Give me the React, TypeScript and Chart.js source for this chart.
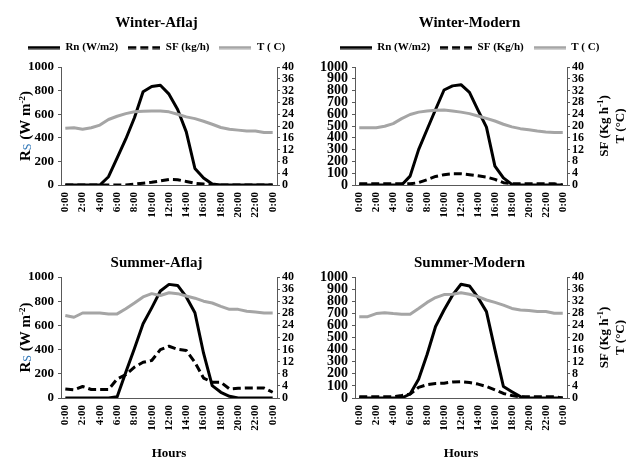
import React, { useEffect, useRef } from 'react';
import { Chart, registerables } from 'chart.js';

Chart.register(...registerables);

const FONT = "'Times New Roman', 'Liberation Serif', serif";
Chart.defaults.font.family = FONT;
Chart.defaults.color = '#000';

// ---------- data ----------
const hours = ['0:00', '1:00', '2:00', '3:00', '4:00', '5:00', '6:00', '7:00', '8:00', '9:00', '10:00', '11:00', '12:00',
  '13:00', '14:00', '15:00', '16:00', '17:00', '18:00', '19:00', '20:00', '21:00', '22:00', '23:00', '0:00'];

const winterAflajRn = [0, 0, 0, 0, 0, 70, 230, 390, 570, 790, 835, 845, 770, 640, 450, 140, 60, 8, 0, 0, 0, 0, 0, 0, 0];
const winterAflajSf = [0, 0, 0, 0, 0, 0, 0, 0, 0.3, 0.6, 0.9, 1.4, 1.9, 1.8, 1.2, 0.6, 0.3, 0, 0, 0, 0, 0, 0, 0, 0];
const winterAflajT = [19.2, 19.4, 18.9, 19.4, 20.3, 22.2, 23.3, 24.2, 24.8, 25.0, 25.1, 25.1, 24.8, 24.0, 23.1, 22.5, 21.6,
  20.6, 19.5, 18.9, 18.6, 18.3, 18.3, 17.8, 17.8];

const winterModernRn = [0, 0, 0, 0, 0, 0, 75, 300, 470, 640, 805, 840, 850, 785, 635, 490, 160, 60, 5, 0, 0, 0, 0, 0, 0];
const winterModernSf = [0.4, 0.4, 0.4, 0.4, 0.4, 0.4, 0.4, 0.8, 1.8, 2.9, 3.5, 3.8, 3.8, 3.5, 3.1, 2.7, 1.9, 0.8, 0.4, 0.4,
  0.4, 0.4, 0.4, 0.4, 0];
const winterModernT = [19.4, 19.4, 19.4, 19.9, 20.8, 22.5, 23.9, 24.7, 25.1, 25.3, 25.4, 25.1, 24.7, 24.2, 23.4, 22.6, 21.7,
  20.6, 19.7, 19.1, 18.7, 18.3, 18.0, 17.8, 17.8];

const summerAflajRn = [0, 0, 0, 0, 0, 0, 10, 213, 410, 613, 745, 884, 939, 930, 835, 705, 370, 102, 47, 14, 0, 0, 0, 0, 0];
const summerAflajSf = [3.0, 2.7, 3.8, 2.8, 2.8, 2.8, 6.3, 7.7, 10.2, 11.8, 12.4, 16.0, 17.1, 16.1, 15.7, 11.8, 6.6, 5.2, 5.2,
  3.0, 3.2, 3.3, 3.3, 3.3, 1.9];
const summerAflajT = [27.3, 26.7, 28.1, 28.1, 28.1, 27.8, 27.8, 29.5, 31.4, 33.4, 34.5, 33.9, 34.8, 34.5, 33.7, 33.0, 32.0,
  31.4, 30.3, 29.3, 29.3, 28.7, 28.4, 28.1, 28.1];

const summerModernRn = [0, 0, 0, 0, 0, 0, 33, 155, 360, 591, 727, 850, 940, 926, 831, 714, 400, 95, 52, 11, 0, 0, 0, 0, 0];
const summerModernSf = [0.4, 0.4, 0.4, 0.4, 0.4, 0.8, 1.3, 3.5, 4.4, 4.8, 4.9, 5.3, 5.4, 5.1, 4.6, 3.8, 2.7, 1.5, 0.8, 0.4,
  0.4, 0.4, 0.4, 0.4, 0];
const summerModernT = [26.9, 26.9, 27.9, 28.2, 27.9, 27.7, 27.7, 29.6, 31.6, 33.2, 34.2, 34.3, 34.8, 34.3, 33.5, 32.4, 31.6,
  30.7, 29.6, 29.1, 28.9, 28.6, 28.6, 28.0, 28.0];

const rnLabel = 'Rn (W/m2)';
const tLabel = 'T ( C)';
const leftMax = 1000;
const rightMax = 40;
const rightStep = 4;

// ---------- panels ----------
const panels: any[] = [
  {
    title: 'Winter-Aflaj', rn: winterAflajRn, sf: winterAflajSf, t: winterAflajT, sfLabel: 'SF (kg/h)',
    legend: true, leftStep: 200, leftTitle: true, rightTitle: false, hoursTitle: false,
    x: 0, y: 0, w: 313, h: 220, leftW: 61, rightW: 36, xH: 35, titlePad: { top: 14, bottom: 0 }, leftFont: 13,
  },
  {
    title: 'Winter-Modern', rn: winterModernRn, sf: winterModernSf, t: winterModernT, sfLabel: 'SF (Kg/h)',
    legend: true, leftStep: 100, leftTitle: false, rightTitle: true, hoursTitle: false,
    x: 313, y: 0, w: 313, h: 220, leftW: 42, rightW: 59, xH: 35, titlePad: { top: 14, bottom: 0 }, leftFont: 14,
  },
  {
    title: 'Summer-Aflaj', rn: summerAflajRn, sf: summerAflajSf, t: summerAflajT, sfLabel: 'SF (kg/h)',
    legend: false, leftStep: 200, leftTitle: true, rightTitle: false, hoursTitle: true,
    x: 0, y: 220, w: 313, h: 242, leftW: 61, rightW: 36, xH: 64, titlePad: { top: 34, bottom: 5 }, leftFont: 13,
  },
  {
    title: 'Summer-Modern', rn: summerModernRn, sf: summerModernSf, t: summerModernT, sfLabel: 'SF (Kg/h)',
    legend: false, leftStep: 100, leftTitle: false, rightTitle: true, hoursTitle: true,
    x: 313, y: 220, w: 313, h: 242, leftW: 42, rightW: 59, xH: 64, titlePad: { top: 34, bottom: 5 }, leftFont: 14,
  },
];

// ---------- helpers ----------
function drawRich(ctx: CanvasRenderingContext2D, segs: any[], cx: number, cy: number) {
  let total = 0;
  for (const s of segs) {
    ctx.font = s.font;
    s.w = ctx.measureText(s.text).width;
    total += s.w;
  }
  ctx.save();
  ctx.translate(cx, cy);
  ctx.rotate(-Math.PI / 2);
  ctx.textBaseline = 'alphabetic';
  ctx.textAlign = 'left';
  let x = -total / 2;
  for (const s of segs) {
    ctx.font = s.font;
    ctx.fillStyle = s.color;
    ctx.fillText(s.text, x, 4.8 + s.dy);
    x += s.w;
  }
  ctx.restore();
}

const axisTitlesPlugin = {
  id: 'axisTitles',
  afterDraw(chart: any, _args: any, opts: any) {
    const { ctx, chartArea } = chart;
    const cy = (chartArea.top + chartArea.bottom) / 2;
    if (opts.left) {
      drawRich(ctx, [
        { text: 'R', font: `bold 15px ${FONT}`, color: '#000', dy: 0 },
        { text: 'S', font: `12px ${FONT}`, color: '#2E75B6', dy: 1 },
        { text: ' (W m', font: `bold 15px ${FONT}`, color: '#000', dy: 0 },
        { text: '-2', font: `bold 9px ${FONT}`, color: '#000', dy: -5 },
        { text: ')', font: `bold 15px ${FONT}`, color: '#000', dy: 0 },
      ], chartArea.left - 36, cy);
    }
    if (opts.right) {
      drawRich(ctx, [
        { text: 'SF (Kg h', font: `bold 13px ${FONT}`, color: '#000', dy: 0 },
        { text: '-1', font: `bold 9px ${FONT}`, color: '#000', dy: -5 },
        { text: ')', font: `bold 13px ${FONT}`, color: '#000', dy: 0 },
      ], chartArea.right + 36, cy);
      drawRich(ctx, [
        { text: 'T (°C)', font: `bold 13px ${FONT}`, color: '#000', dy: 0 },
      ], chartArea.right + 52, cy);
    }
  },
};

function lineIcon(color: string, dash: number[]) {
  const c = document.createElement('canvas');
  c.width = 32;
  c.height = 4;
  const g = c.getContext('2d')!;
  g.strokeStyle = color;
  g.lineWidth = 3;
  g.setLineDash(dash);
  g.beginPath();
  g.moveTo(0, 2);
  g.lineTo(32, 2);
  g.stroke();
  return c;
}

const AXIS = '#595959';
const GREY = '#A5A5A5';
const DASH = [8, 4];

function buildConfig(p: any): any {
  const icons = [lineIcon('#000', []), lineIcon('#000', DASH), lineIcon(GREY, [])];
  return {
    type: 'line',
    data: {
      labels: hours,
      datasets: [
        { label: rnLabel, data: p.rn, yAxisID: 'y', borderColor: '#000', backgroundColor: '#000', borderWidth: 3,
          pointRadius: 0, tension: 0, order: 3, borderJoinStyle: 'round' },
        { label: p.sfLabel, data: p.sf, yAxisID: 'y1', borderColor: '#000', backgroundColor: '#000', borderWidth: 3,
          borderDash: DASH, pointRadius: 0, tension: 0, order: 2, borderJoinStyle: 'round' },
        { label: tLabel, data: p.t, yAxisID: 'y1', borderColor: GREY, backgroundColor: GREY, borderWidth: 3,
          pointRadius: 0, tension: 0, order: 1, borderJoinStyle: 'round' },
      ],
    },
    options: {
      responsive: false,
      animation: false,
      events: [],
      layout: { padding: 0 },
      plugins: {
        tooltip: { enabled: false },
        title: {
          display: true, text: p.title, color: '#000',
          font: { size: 15, weight: 'bold', family: FONT }, padding: p.titlePad,
        },
        subtitle: {
          display: p.legend, text: '', weight: 500, padding: 0, font: { size: 4, lineHeight: 1 },
        },
        legend: {
          display: p.legend,
          position: 'top',
          labels: {
            usePointStyle: true,
            pointStyleWidth: 32,
            padding: 10,
            color: '#000',
            font: { size: 11, weight: 'bold', family: FONT },
            generateLabels: (chart: any) => chart.data.datasets.map((ds: any, i: number) => ({
              text: ds.label, pointStyle: icons[i], fontColor: '#000', hidden: false, datasetIndex: i,
              lineWidth: 0, strokeStyle: 'rgba(0,0,0,0)', fillStyle: 'rgba(0,0,0,0)',
            })),
          },
        },
        axisTitles: { left: p.leftTitle, right: p.rightTitle },
      },
      scales: {
        x: {
          type: 'category',
          offset: true,
          grid: { display: false, drawTicks: false },
          border: { display: true, color: AXIS, width: 1 },
          ticks: {
            autoSkip: false, minRotation: 90, maxRotation: 90, padding: 7, color: '#000',
            font: { size: 11, weight: 'bold', family: FONT },
            callback: (_v: any, i: number) => (i % 2 === 0 ? hours[i] : ''),
          },
          title: {
            display: p.hoursTitle, text: 'Hours', color: '#000',
            font: { size: 13, weight: 'bold', family: FONT }, padding: { top: 0, bottom: 1 },
          },
          afterFit: (s: any) => { s.height = p.xH; },
        },
        y: {
          position: 'left',
          min: 0, max: leftMax,
          grid: { display: true, drawOnChartArea: false, drawTicks: true, tickLength: 3, color: AXIS },
          border: { display: true, color: AXIS, width: 1 },
          ticks: {
            stepSize: p.leftStep, autoSkip: false, padding: 4, color: '#000',
            font: { size: p.leftFont, weight: 'bold', family: FONT },
            callback: (v: any) => String(v),
          },
          afterFit: (s: any) => { s.width = p.leftW; },
        },
        y1: {
          position: 'right',
          min: 0, max: rightMax,
          grid: { display: true, drawOnChartArea: false, drawTicks: true, tickLength: 3, color: AXIS },
          border: { display: true, color: AXIS, width: 1 },
          ticks: {
            stepSize: rightStep, autoSkip: false, padding: 2, color: '#000',
            font: { size: 12, weight: 'bold', family: FONT },
            callback: (v: any) => String(v),
          },
          afterFit: (s: any) => { s.width = p.rightW; },
        },
      },
    },
    plugins: [axisTitlesPlugin],
  };
}

function ChartPanel({ p }: { p: any }) {
  const ref = useRef<HTMLCanvasElement>(null);
  useEffect(() => {
    const chart = new Chart(ref.current as HTMLCanvasElement, buildConfig(p));
    return () => chart.destroy();
  }, [p]);
  return (
    <canvas
      ref={ref}
      width={p.w}
      height={p.h}
      style={{ position: 'absolute', left: p.x, top: p.y, width: p.w, height: p.h }}
    />
  );
}

export default function App() {
  return (
    <div style={{ position: 'absolute', left: 0, top: 0, width: 626, height: 462, background: '#fff', overflow: 'hidden' }}>
      {panels.map((p, i) => (
        <ChartPanel key={i} p={p} />
      ))}
    </div>
  );
}
